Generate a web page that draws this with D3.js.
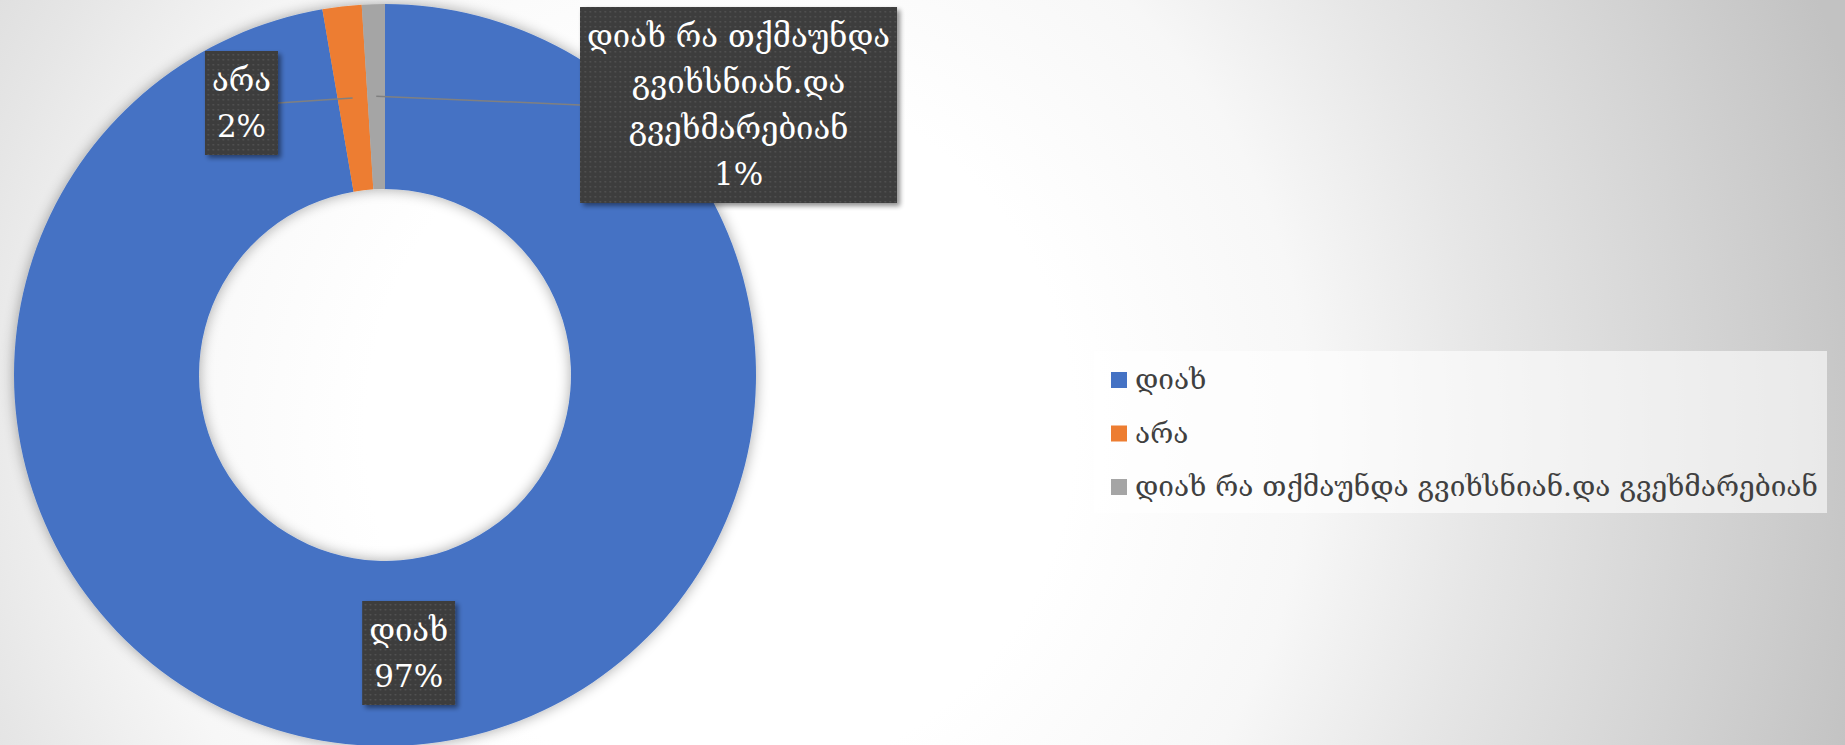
<!DOCTYPE html>
<html><head><meta charset="utf-8">
<script src="https://cdn.jsdelivr.net/npm/d3@7/dist/d3.min.js"></script>
<style>
html,body{margin:0;padding:0;overflow:hidden;}
svg{display:block;}
</style></head>
<body>
<svg id="chart" width="1845" height="745"></svg>
<script>
// ---- data ----
const categories = ["დიახ", "არა", "დიახ რა თქმაუნდა გვიხსნიან.და გვეხმარებიან"];
const values = [97.3, 1.7, 1.0];
const colors = ["#4472C4", "#ED7D31", "#A5A5A5"];
const labelLines = [["დიახ"], ["არა"], ["დიახ რა თქმაუნდა", "გვიხსნიან.და", "გვეხმარებიან"]];

const W = 1845, H = 745;
const svg = d3.select("#chart");
const defs = svg.append("defs");
const FONT = "'DejaVu Serif', 'DejaVu Sans', serif";

// background gradient
const bg = defs.append("radialGradient").attr("id", "bg").attr("gradientUnits", "userSpaceOnUse")
  .attr("cx", 720).attr("cy", 430).attr("r", 1180);
[[0, "#ffffff"], [0.3, "#ffffff"], [0.5, "#f7f7f7"], [0.65, "#e6e6e6"], [0.85, "#d2d2d2"], [1, "#c2c2c2"]]
  .forEach(([o, c]) => bg.append("stop").attr("offset", o).attr("stop-color", c));
svg.append("rect").attr("width", W).attr("height", H).attr("fill", "url(#bg)");

// filters
const sh = defs.append("filter").attr("id", "soft").attr("x", "-10%").attr("y", "-10%").attr("width", "120%").attr("height", "120%");
sh.append("feGaussianBlur").attr("in", "SourceAlpha").attr("stdDeviation", 7).attr("result", "b");
sh.append("feOffset").attr("in", "b").attr("dx", 0).attr("dy", 0).attr("result", "o");
sh.append("feComponentTransfer").attr("in", "o").attr("result", "o2").append("feFuncA").attr("type", "linear").attr("slope", 0.35);
const m1 = sh.append("feMerge"); m1.append("feMergeNode").attr("in", "o2"); m1.append("feMergeNode").attr("in", "SourceGraphic");

const bs = defs.append("filter").attr("id", "boxsh").attr("x", "-20%").attr("y", "-20%").attr("width", "150%").attr("height", "150%");
bs.append("feGaussianBlur").attr("in", "SourceAlpha").attr("stdDeviation", 2.5).attr("result", "b");
bs.append("feOffset").attr("in", "b").attr("dx", 3).attr("dy", 3).attr("result", "o");
bs.append("feComponentTransfer").attr("in", "o").attr("result", "o2").append("feFuncA").attr("type", "linear").attr("slope", 0.45);
const m2 = bs.append("feMerge"); m2.append("feMergeNode").attr("in", "o2"); m2.append("feMergeNode").attr("in", "SourceGraphic");

// dotted pattern for label boxes
const pat = defs.append("pattern").attr("id", "dots").attr("patternUnits", "userSpaceOnUse").attr("width", 5).attr("height", 5);
pat.append("rect").attr("width", 5).attr("height", 5).attr("fill", "#3d3d3d");
pat.append("rect").attr("x", 1).attr("y", 1).attr("width", 1.5).attr("height", 1.5).attr("fill", "#555555");

// donut
const cx = 385, cy = 375, R = 371, r = 186;
const pie = d3.pie().sort(null).value(d => d)(values);
const arc = d3.arc().innerRadius(r).outerRadius(R);
const labelArc = d3.arc().innerRadius(279).outerRadius(279);
const total = d3.sum(values);

const g = svg.append("g").attr("transform", `translate(${cx},${cy})`);
g.append("g").attr("filter", "url(#soft)")
  .selectAll("path").data(pie).join("path")
  .attr("d", arc).attr("fill", (d, i) => colors[i]);

// labels
const fs = 31, lh = 46;
const placements = [
  { mode: "centroid" },
  { mode: "left", edge: 278, cyOff: 103 },
  { mode: "right", edge: 580, cyOff: 105 }
];
pie.forEach((d, i) => {
  const lines = labelLines[i].concat([Math.round(d.value / total * 100) + "%"]);
  const [ax, ay] = labelArc.centroid(d);
  const lg = svg.append("g");
  const t = lg.append("text").attr("font-family", FONT).attr("font-size", fs).attr("fill", "#ffffff").attr("text-anchor", "middle");
  lines.forEach((s, k) => t.append("tspan").attr("x", 0).attr("y", (k - (lines.length - 1) / 2) * lh + fs * 0.35).text(s));
  const bb = t.node().getBBox();
  const padX = 7, padY = 6;
  const bw = bb.width + padX * 2, bh = lines.length * lh + padY * 2;
  let bx, by;
  const p = placements[i];
  if (p.mode === "centroid") { bx = cx + ax; by = cy + ay; }
  else if (p.mode === "left") { bx = p.edge - bw / 2; by = p.cyOff;
    svg.append("line").attr("x1", cx + ax).attr("y1", cy + ay).attr("x2", p.edge).attr("y2", by).attr("stroke", "#808080").attr("stroke-width", 1.5); }
  else { bx = p.edge + bw / 2; by = p.cyOff;
    svg.append("line").attr("x1", cx + ax).attr("y1", cy + ay).attr("x2", p.edge).attr("y2", by).attr("stroke", "#808080").attr("stroke-width", 1.5); }
  lg.attr("transform", `translate(${bx},${by})`);
  lg.insert("rect", "text").attr("x", -bw / 2).attr("y", -bh / 2).attr("width", bw).attr("height", bh)
    .attr("fill", "url(#dots)").attr("filter", "url(#boxsh)");
  lg.raise();
});

// legend
const lgX = 1094, lgY = 351, lgW = 733, lgH = 162;
const leg = svg.append("g");
leg.append("rect").attr("x", lgX).attr("y", lgY).attr("width", lgW).attr("height", lgH).attr("fill", "#ffffff").attr("fill-opacity", 0.6);
const rowY = d3.scalePoint().domain(categories).range([380, 487]);
categories.forEach((c, i) => {
  leg.append("rect").attr("x", 1111).attr("y", rowY(c) - 8).attr("width", 16).attr("height", 16).attr("fill", colors[i]);
  leg.append("text").attr("x", 1135).attr("y", rowY(c) + 9).attr("font-family", FONT).attr("font-size", 28).attr("fill", "#404040").text(c);
});
</script>
</body></html>
